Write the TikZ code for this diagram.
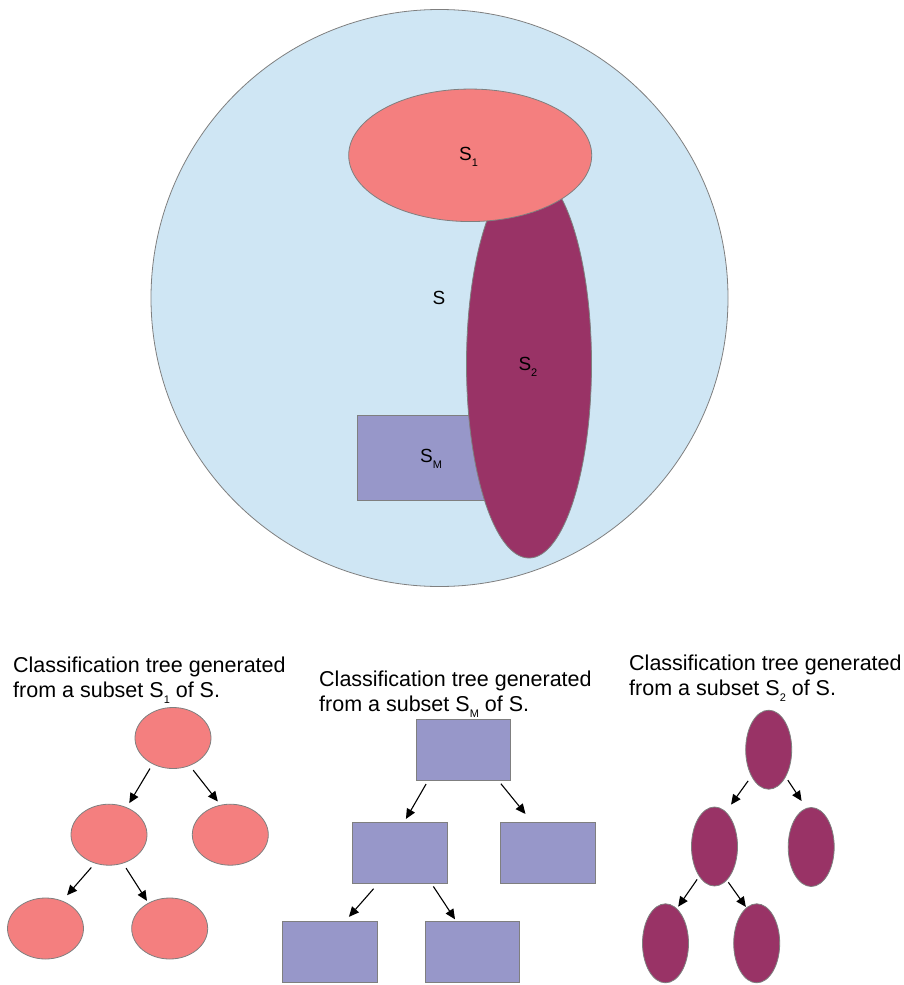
\documentclass[tikz,border=0pt]{standalone}
\usepackage{fontspec}
\setmainfont{Liberation Sans}
\usetikzlibrary{shapes.geometric,arrows.meta}

\definecolor{setblue}{HTML}{CFE6F4}
\definecolor{setpink}{HTML}{F47F7F}
\definecolor{setplum}{HTML}{993366}
\definecolor{setlav}{HTML}{9797C9}
\definecolor{edgegray}{HTML}{7F7F7F}

% lowered small index used after the set letters
\newcommand\lowsub[1]{\raisebox{-6pt}{\fontsize{11}{11}\selectfont #1}}

\begin{document}
\begin{tikzpicture}[x=1pt,y=-1pt,
  outlined/.style={draw=edgegray, line width=0.8pt, inner sep=0pt, outer sep=0pt},
  pinkleaf/.style={outlined, ellipse, fill=setpink, minimum width=76pt, minimum height=61pt},
  plumleaf/.style={outlined, ellipse, fill=setplum, minimum width=46pt, minimum height=79pt},
  lavbox/.style={outlined, rectangle, fill=setlav, minimum width=94.5pt, minimum height=61pt},
  setlabel/.style={anchor=base west, inner sep=0pt, font=\fontsize{19}{19}\selectfont},
  captext/.style={anchor=north west, inner sep=0pt, align=left, font=\fontsize{21.5}{25}\selectfont},
  treearrow/.style={-{Triangle[length=10pt,width=9pt]}, line width=1.1pt, black}
]
\useasboundingbox (0,0) rectangle (904,985);

% the whole set S and its subsets
\node[outlined, circle, fill=setblue, minimum size=577pt] (S) at (439.5,298) {};
\node[outlined, rectangle, fill=setlav, minimum width=140pt, minimum height=85pt, anchor=north west] (SM) at (357.8,415.3) {};
\node[outlined, ellipse, fill=setplum, minimum width=125pt, minimum height=388pt] (S2) at (529,364) {};
\node[outlined, ellipse, fill=setpink, minimum width=243pt, minimum height=132.5pt] (S1) at (470.2,155.3) {};

\node[setlabel] (labS) at (432.3,304.5) {S};
\node[setlabel] (labS1) at (459,160) {S\lowsub{1}};
\node[setlabel] (labS2) at (518.3,370) {S\lowsub{2}};
\node[setlabel] (labSM) at (420,462.3) {S\lowsub{M}};

% captions
\node[captext] (cap1) at (13,657) {Classification tree generated\\from a subset S\lowsub{1} of S.};
\node[captext] (capM) at (319,671) {Classification tree generated\\from a subset S\lowsub{M} of S.};
\node[captext] (cap2) at (629,655) {Classification tree generated\\from a subset S\lowsub{2} of S.};

% tree from S1
\node[pinkleaf] (p0) at (173,738) {};
\node[pinkleaf] (p1) at (109,834.7) {};
\node[pinkleaf] (p2) at (230.3,834.7) {};
\node[pinkleaf] (p3) at (45.5,928.5) {};
\node[pinkleaf] (p4) at (169.7,928.5) {};
\draw[treearrow, shorten <=5.5pt, shorten >=5.2pt] (p0.232) -- (p1.57);
\draw[treearrow, shorten <=6pt, shorten >=4.7pt] (p0.301) -- (p2.108);
\draw[treearrow, shorten <=5.8pt, shorten >=7.7pt] (p1.244) -- (p3.59);
\draw[treearrow, shorten <=5.9pt, shorten >=2.8pt] (p1.296) -- (p4.130);

% tree from SM
\node[lavbox] (m0) at (463.2,750) {};
\node[lavbox] (m1) at (399.7,852.8) {};
\node[lavbox] (m2) at (547.8,852.8) {};
\node[lavbox] (m3) at (329.7,952.3) {};
\node[lavbox] (m4) at (472.2,952.3) {};
\draw[treearrow, shorten <=4.1pt, shorten >=3.9pt] (m0.221) -- (m1.82);
\draw[treearrow, shorten <=4.1pt, shorten >=10.7pt] (m0.319) -- (m2.117);
\draw[treearrow, shorten <=7.2pt, shorten >=6.6pt] (m1.235) -- (m3.64);
\draw[treearrow, shorten <=3.8pt, shorten >=3pt] (m1.316) -- (m4.117);

% tree from S2
\node[plumleaf] (u0) at (768.7,749.7) {};
\node[plumleaf] (u1) at (714.5,846.5) {};
\node[plumleaf] (u2) at (811.2,847) {};
\node[plumleaf] (u3) at (665.5,943.3) {};
\node[plumleaf] (u4) at (756.7,943.3) {};
\draw[treearrow, shorten <=5.9pt, shorten >=9.1pt] (u0.237) -- (u1.72);
\draw[treearrow, shorten <=4.2pt, shorten >=8.8pt] (u0.302) -- (u2.97);
\draw[treearrow, shorten <=3.9pt, shorten >=2.6pt] (u1.243) -- (u3.72);
\draw[treearrow, shorten <=2.8pt, shorten >=1.2pt] (u1.290) -- (u4.106);
\end{tikzpicture}
\end{document}
